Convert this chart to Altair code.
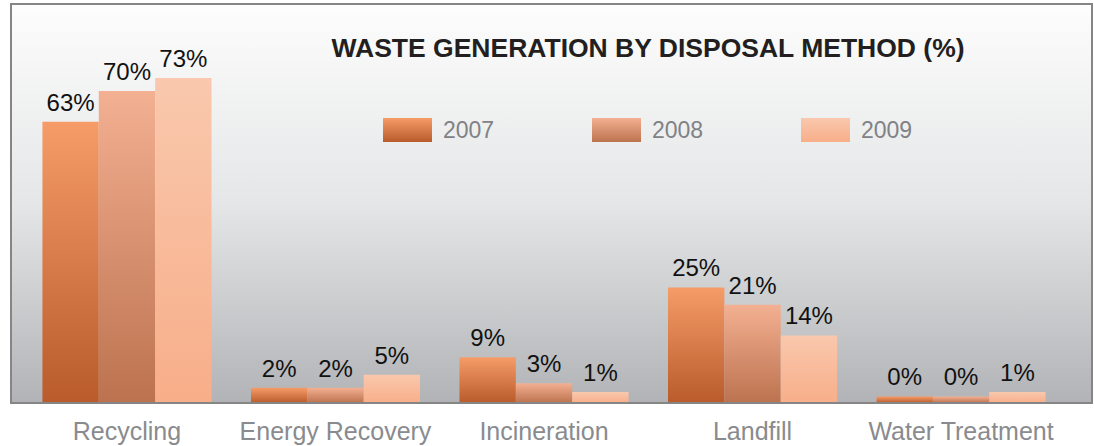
import altair as alt
import pandas as pd

# ---- data ----
categories = ["Recycling", "Energy Recovery", "Incineration", "Landfill", "Water Treatment"]
years = ["2007", "2008", "2009"]
values_2007 = [63, 2, 9, 25, 0]
values_2008 = [70, 2, 3, 21, 0]
values_2009 = [73, 5, 1, 14, 1]
title_text = "WASTE GENERATION BY DISPOSAL METHOD (%)"

series = {"2007": values_2007, "2008": values_2008, "2009": values_2009}
rows = []
for y in years:
    for c, v in zip(categories, series[y]):
        rows.append({"category": c, "year": y, "value": v, "label": f"{v}%"})
df = pd.DataFrame(rows)
one = pd.DataFrame({"k": [0]})

# ---- styles ----
W, H = 1081, 399
FONT = "Liberation Sans"


def grad(top, bottom, mid=None):
    stops = [alt.GradientStop(offset=0, color=top)]
    if mid:
        stops.append(alt.GradientStop(offset=0.5, color=mid))
    stops.append(alt.GradientStop(offset=1, color=bottom))
    return alt.LinearGradient(gradient="linear", stops=stops, x1=0, x2=0, y1=0, y2=1)


bar_grads = {
    "2007": grad("#f59c68", "#b95b2b"),
    "2008": grad("#f3b092", "#bc724e"),
    "2009": grad("#f9c8ad", "#f8ae89"),
}
bg_grad = grad("#fdfdfd", "#b1b3b6", "#e5e6e7")

x_enc = alt.X(
    "category:N",
    sort=categories,
    title=None,
    scale=alt.Scale(paddingInner=0, paddingOuter=0.092, align=0.305),
    axis=alt.Axis(
        labelAngle=0, labelFontSize=25, labelColor="#898b8e", labelFont=FONT,
        ticks=False, domain=False, grid=False, labelPadding=16, labelLimit=0,
    ),
)
xo_enc = alt.XOffset("year:N", scale=alt.Scale(domain=years, paddingInner=0, paddingOuter=0.35))
y_enc = alt.Y("value:Q", stack=None,
              scale=alt.Scale(domain=[-1.5, 89.97], nice=False, zero=False), axis=None)

background = alt.Chart(one).mark_rect(color=bg_grad).encode(
    x=alt.value(0), x2=alt.value(W), y=alt.value(0), y2=alt.value(H)
)

layers = [background]
for yr in years:
    base = alt.Chart(df).transform_filter(alt.datum.year == yr)
    layers.append(
        base.mark_bar(color=bar_grads[yr]).encode(
            x=x_enc, xOffset=xo_enc, y=y_enc, y2=alt.value(H)
        )
    )
for yr in years:
    base = alt.Chart(df).transform_filter(alt.datum.year == yr)
    layers.append(
        base.mark_text(dy=-11, baseline="alphabetic", fontSize=24, font=FONT, color="#111111").encode(
            x=x_enc, xOffset=xo_enc, y=y_enc, text="label:N"
        )
    )

# legend (manual, to keep gradients)
legend_x = [372, 581, 790]
for yr, lx in zip(years, legend_x):
    layers.append(
        alt.Chart(one).mark_rect(color=bar_grads[yr]).encode(
            x=alt.value(lx), x2=alt.value(lx + 49), y=alt.value(114), y2=alt.value(138)
        )
    )
    layers.append(
        alt.Chart(one).mark_text(align="left", baseline="middle", fontSize=23, font=FONT, color="#808285").encode(
            x=alt.value(lx + 60), y=alt.value(127), text=alt.value(yr)
        )
    )

layers.append(
    alt.Chart(one).mark_text(align="center", baseline="alphabetic", fontSize=26.5, fontWeight="bold",
                             font=FONT, color="#231f20").encode(
        x=alt.value(637), y=alt.value(53), text=alt.value(title_text)
    )
)

layers.append(
    alt.Chart(one).mark_rect(fillOpacity=0, stroke="#858585", strokeWidth=2).encode(
        x=alt.value(0), x2=alt.value(W), y=alt.value(0), y2=alt.value(H)
    )
)

chart = (
    alt.layer(*layers)
    .properties(
        width=W, height=H,
        autosize=alt.AutoSizeParams(type="none"),
        padding={"left": 11, "top": 4, "right": 2, "bottom": 43},
        background="white",
    )
    .configure_view(stroke=None)
)

chart.save("out.html", embed_options={"renderer": "svg", "actions": False})
